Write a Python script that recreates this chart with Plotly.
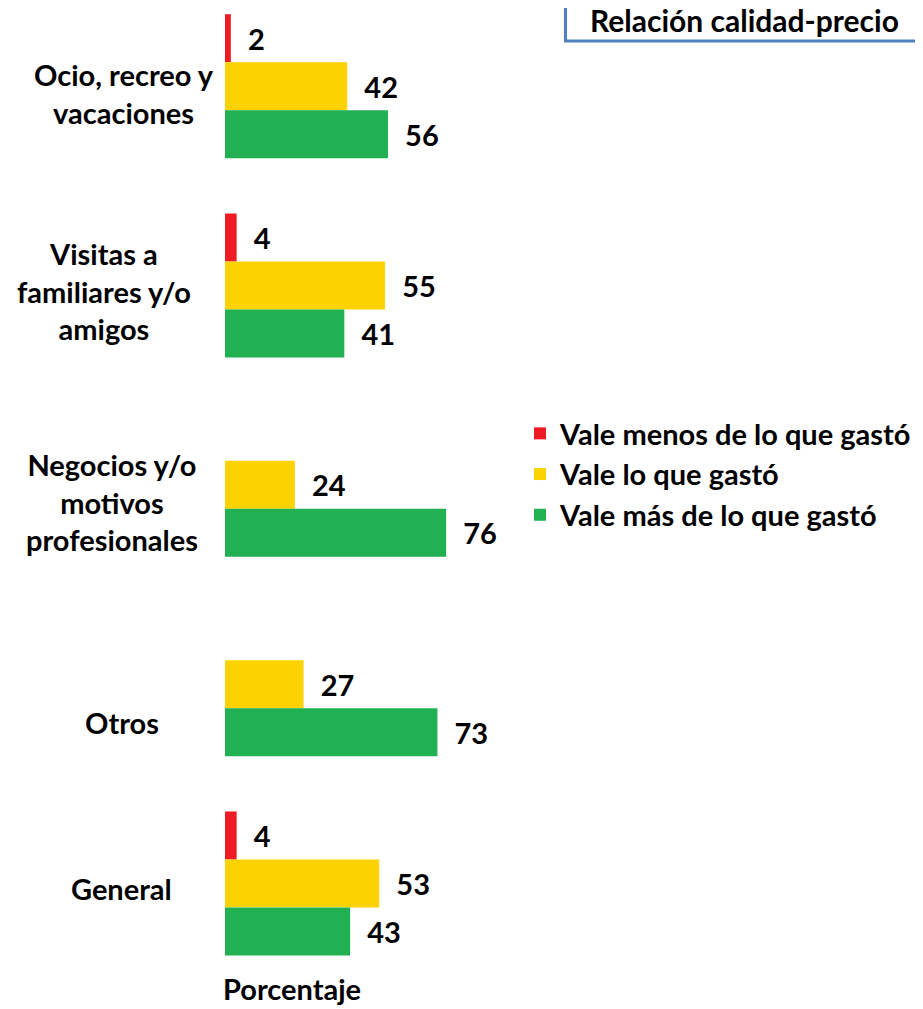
import plotly.graph_objects as go

categories = ["Ocio, recreo y vacaciones", "Visitas a familiares y/o amigos",
              "Negocios y/o motivos profesionales", "Otros", "General"]
label_lines = ["Ocio, recreo y<br>vacaciones", "Visitas a<br>familiares y/o<br>amigos",
               "Negocios y/o<br>motivos<br>profesionales", "Otros", "General"]
vale_menos = [2, 4, None, None, 4]
vale_lo = [42, 55, 24, 27, 53]
vale_mas = [56, 41, 76, 73, 43]
series_names = ["Vale menos de lo que gastó", "Vale lo que gastó", "Vale más de lo que gastó"]
title_text = "Relación calidad-precio"
axis_title = "Porcentaje"

# ---- styling ----
OFF = 8  # page body margin in the browser
W, H = 923 - OFF, 1009 - OFF
ML, MR, MT, MB = 225 - OFF, 0, 0, 49
PW, PH = W - ML - MR, H - MT - MB
FONT = "Lato"
FS = 29
colors = ["#ED1C24", "#FCD200", "#21B153"]


def px_x(px):  # page pixel -> paper x
    return (px - OFF - ML) / PW


def px_y(py):  # page pixel -> paper y
    return (MT + PH - (py - OFF)) / PH


fig = go.Figure()
for vals, name, col in zip([vale_menos, vale_lo, vale_mas], series_names, colors):
    fig.add_trace(go.Bar(
        y=categories, x=vals, name=name, orientation="h",
        marker=dict(color=col, line=dict(width=0)),
        text=["\u00a0\u00a0" + str(v) if v is not None else "" for v in vals],
        textposition="outside", cliponaxis=False,
        textfont=dict(family=FONT, size=FS, color="black", weight="bold"),
    ))

label_x = [124, 104, 112, 122, 122]
label_shift = [-7, -5, -17, -38, -5]
annotations = []
for cat, lab, lx, ls in zip(categories, label_lines, label_x, label_shift):
    annotations.append(dict(
        text=lab, xref="paper", yref="y", x=px_x(lx), y=cat, yshift=ls,
        xanchor="center", yanchor="middle", align="center", showarrow=False,
        font=dict(family=FONT, size=FS, color="black", weight="bold")))

annotations.append(dict(
    text=axis_title, xref="paper", yref="paper", x=px_x(292), y=px_y(989),
    xanchor="center", yanchor="middle", showarrow=False,
    font=dict(family=FONT, size=FS, color="black", weight="bold")))
annotations.append(dict(
    text=title_text, xref="paper", yref="paper", x=px_x(588), y=px_y(20),
    xanchor="left", yanchor="middle", showarrow=False,
    font=dict(family=FONT, size=30, color="black", weight="bold")))

y_top = -0.3924
y_bot = 4.384

fig.update_layout(
    width=W, height=H,
    margin=dict(l=ML, r=MR, t=MT, b=MB, pad=0),
    paper_bgcolor="white", plot_bgcolor="white",
    barmode="group", bargap=0.2775, bargroupgap=0,
    showlegend=True,
    legend=dict(x=px_x(520), y=px_y(408), xanchor="left", yanchor="top",
                traceorder="normal", bgcolor="rgba(0,0,0,0)",
                font=dict(family=FONT, size=FS, color="black", weight="bold")),
    xaxis=dict(range=[0, PW / 2.91], visible=False, fixedrange=True),
    yaxis=dict(type="category", categoryorder="array", categoryarray=categories,
               range=[y_bot, y_top], visible=False, fixedrange=True),
    annotations=annotations,
    shapes=[dict(type="rect", xref="paper", yref="paper",
                 x0=px_x(565.5), x1=1.2, y0=px_y(41), y1=1.2,
                 line=dict(color="#4F81BD", width=3), fillcolor="rgba(0,0,0,0)",
                 layer="below")],
)

fig.write_html("out.html")
